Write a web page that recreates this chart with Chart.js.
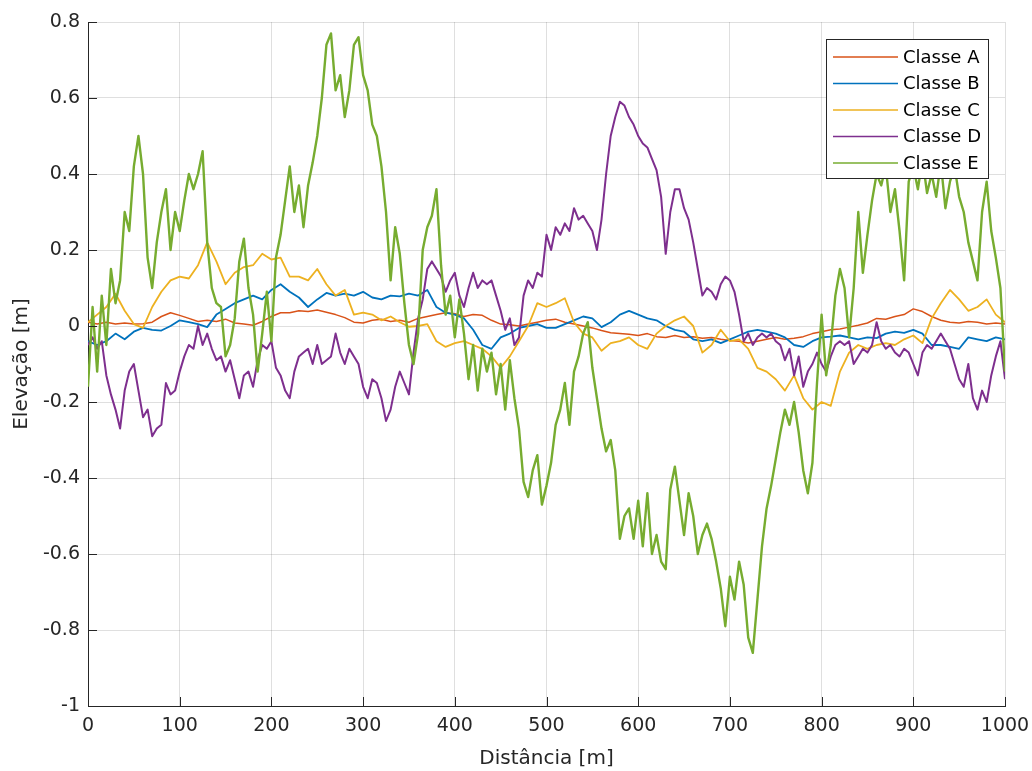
<!DOCTYPE html>
<html>
<head>
<meta charset="utf-8">
<script src="https://cdn.jsdelivr.net/npm/chart.js@4/dist/chart.umd.min.js"></script>
<style>
  html, body { margin: 0; padding: 0; background: #ffffff; }
  canvas { display: block; }
</style>
</head>
<body>
<canvas id="perfil" width="1032" height="771"></canvas>
<script>
// Perfis de elevação por classe de rugosidade, distância 0–1000 m
const seriesNames = ['Classe A', 'Classe B', 'Classe C', 'Classe D', 'Classe E'];
const seriesColors = ['#D95319', '#0072BD', '#EDB120', '#7E2F8E', '#77AC30'];
const seriesWidths = [1.5, 1.8, 1.8, 2, 2.4];

const xTicks = [0, 100, 200, 300, 400, 500, 600, 700, 800, 900, 1000];
const yTicks = [-1, -0.8, -0.6, -0.4, -0.2, 0, 0.2, 0.4, 0.6, 0.8];

// sample positions along the profile (10 m and 5 m spacing)
const dist10 = Array.from({ length: 101 }, (_, i) => i * 10);
const dist5 = Array.from({ length: 201 }, (_, i) => i * 5);

// Classe A, every 10 m
const elevA = [
  0.010, 0.005, 0.010, 0.005, 0.008, 0.005, 0.006, 0.010, 0.025, 0.035,
  0.028, 0.020, 0.012, 0.015, 0.012, 0.018, 0.008, 0.005, 0.002, 0.012,
  0.025, 0.035, 0.035, 0.040, 0.038, 0.042, 0.036, 0.030, 0.022, 0.010,
  0.008, 0.015, 0.018, 0.012, 0.015, 0.010, 0.020, 0.025, 0.030, 0.035,
  0.032, 0.025, 0.030, 0.028, 0.015, 0.005, 0.003, 0.000, 0.005, 0.010,
  0.015, 0.018, 0.010, 0.005, 0.000, -0.005, -0.012, -0.018, -0.020, -0.022,
  -0.025, -0.020, -0.028, -0.030, -0.025, -0.030, -0.028, -0.032, -0.030, -0.035,
  -0.038, -0.040, -0.045, -0.040, -0.035, -0.030, -0.035, -0.032, -0.028, -0.020,
  -0.015, -0.010, -0.008, -0.003, 0.002, 0.008, 0.020, 0.018, 0.025, 0.030,
  0.045, 0.038, 0.025, 0.015, 0.010, 0.008, 0.012, 0.010, 0.005, 0.008,
  0.005
];

// Classe B, every 10 m
const elevB = [
  -0.040, -0.050, -0.040, -0.020, -0.035, -0.015, -0.005, -0.010, -0.012, 0.000,
  0.015, 0.010, 0.005, -0.003, 0.030, 0.045, 0.060, 0.070, 0.080, 0.070,
  0.095, 0.110, 0.090, 0.075, 0.050, 0.070, 0.087, 0.080, 0.085, 0.080,
  0.090, 0.075, 0.070, 0.080, 0.078, 0.085, 0.080, 0.095, 0.050, 0.035,
  0.030, 0.020, -0.010, -0.050, -0.060, -0.030, -0.020, -0.005, 0.000, 0.005,
  -0.005, -0.005, 0.005, 0.015, 0.025, 0.020, -0.003, 0.010, 0.030, 0.040,
  0.030, 0.020, 0.015, 0.000, -0.010, -0.015, -0.035, -0.040, -0.035, -0.045,
  -0.035, -0.025, -0.015, -0.010, -0.015, -0.020, -0.030, -0.050, -0.055, -0.040,
  -0.030, -0.028, -0.025, -0.030, -0.035, -0.030, -0.032, -0.020, -0.015, -0.018,
  -0.010, -0.020, -0.050, -0.050, -0.055, -0.060, -0.030, -0.035, -0.040, -0.030,
  -0.035
];

// Classe C, every 10 m
const elevC = [
  0.010, 0.030, 0.050, 0.085, 0.040, 0.005, -0.005, 0.050, 0.090, 0.120,
  0.130, 0.125, 0.160, 0.220, 0.170, 0.110, 0.140, 0.155, 0.160, 0.190,
  0.175, 0.180, 0.130, 0.130, 0.120, 0.150, 0.110, 0.080, 0.095, 0.030,
  0.035, 0.030, 0.015, 0.025, 0.010, -0.002, 0.000, 0.005, -0.040, -0.055,
  -0.045, -0.040, -0.050, -0.060, -0.080, -0.110, -0.080, -0.040, 0.000, 0.060,
  0.050, 0.060, 0.073, 0.010, -0.020, -0.030, -0.065, -0.045, -0.040, -0.030,
  -0.050, -0.060, -0.020, 0.000, 0.015, 0.025, 0.000, -0.070, -0.050, -0.010,
  -0.040, -0.035, -0.060, -0.110, -0.120, -0.140, -0.170, -0.130, -0.190, -0.220,
  -0.200, -0.210, -0.120, -0.070, -0.050, -0.060, -0.050, -0.045, -0.050, -0.035,
  -0.025, -0.045, 0.020, 0.060, 0.095, 0.070, 0.040, 0.050, 0.070, 0.030,
  0.010
];

// Classe D, every 5 m
const elevD = [
  -0.05, -0.03, -0.06, -0.04, -0.13, -0.18, -0.22, -0.27, -0.17, -0.12,
  -0.10, -0.17, -0.24, -0.22, -0.29, -0.27, -0.26, -0.15, -0.18, -0.17,
  -0.12, -0.08, -0.05, -0.06, 0.00, -0.05, -0.02, -0.06, -0.09, -0.08,
  -0.12, -0.09, -0.14, -0.19, -0.13, -0.12, -0.16, -0.09, -0.05, -0.06,
  -0.04, -0.11, -0.13, -0.17, -0.19, -0.12, -0.08, -0.07, -0.06, -0.10,
  -0.05, -0.10, -0.09, -0.08, -0.02, -0.07, -0.10, -0.06, -0.08, -0.10,
  -0.16, -0.19, -0.14, -0.15, -0.19, -0.25, -0.22, -0.16, -0.12, -0.15,
  -0.18, -0.07, 0.02, 0.07, 0.15, 0.17, 0.15, 0.13, 0.09, 0.12,
  0.14, 0.08, 0.05, 0.10, 0.14, 0.10, 0.12, 0.11, 0.12, 0.08,
  0.04, -0.01, 0.02, -0.05, -0.03, 0.08, 0.12, 0.10, 0.14, 0.13,
  0.24, 0.20, 0.26, 0.24, 0.27, 0.25, 0.31, 0.28, 0.29, 0.27,
  0.25, 0.20, 0.28, 0.40, 0.50, 0.55, 0.59, 0.58, 0.55, 0.53,
  0.50, 0.48, 0.47, 0.44, 0.41, 0.34, 0.19, 0.30, 0.36, 0.36,
  0.31, 0.28, 0.22, 0.15, 0.08, 0.10, 0.09, 0.07, 0.11, 0.13,
  0.12, 0.09, 0.03, -0.04, -0.02, -0.05, -0.03, -0.02, -0.03, -0.02,
  -0.04, -0.05, -0.09, -0.06, -0.13, -0.08, -0.16, -0.12, -0.10, -0.07,
  -0.10, -0.12, -0.08, -0.05, -0.04, -0.05, -0.04, -0.10, -0.08, -0.06,
  -0.07, -0.05, 0.01, -0.04, -0.06, -0.05, -0.07, -0.08, -0.06, -0.07,
  -0.10, -0.13, -0.07, -0.05, -0.06, -0.04, -0.02, -0.04, -0.06, -0.10,
  -0.14, -0.16, -0.10, -0.19, -0.22, -0.17, -0.20, -0.13, -0.08, -0.04,
  -0.14
];

// Classe E, every 5 m
const elevE = [
  -0.16, 0.05, -0.12, 0.08, -0.05, 0.15, 0.06, 0.12, 0.30, 0.25,
  0.42, 0.50, 0.40, 0.18, 0.10, 0.22, 0.30, 0.36, 0.20, 0.30,
  0.25, 0.33, 0.40, 0.36, 0.40, 0.46, 0.22, 0.10, 0.06, 0.05,
  -0.08, -0.05, 0.02, 0.17, 0.23, 0.10, 0.03, -0.12, -0.02, 0.09,
  -0.04, 0.18, 0.24, 0.33, 0.42, 0.30, 0.37, 0.26, 0.37, 0.43,
  0.50, 0.60, 0.74, 0.77, 0.62, 0.66, 0.55, 0.62, 0.74, 0.76,
  0.66, 0.62, 0.53, 0.50, 0.42, 0.30, 0.12, 0.26, 0.19, 0.06,
  -0.05, -0.10, -0.02, 0.20, 0.26, 0.29, 0.36, 0.16, 0.03, 0.08,
  -0.03, 0.07, -0.02, -0.14, -0.05, -0.17, -0.06, -0.12, -0.07, -0.18,
  -0.10, -0.22, -0.09, -0.19, -0.27, -0.41, -0.45, -0.38, -0.34, -0.47,
  -0.42, -0.36, -0.26, -0.22, -0.15, -0.26, -0.12, -0.08, -0.02, 0.01,
  -0.11, -0.19, -0.27, -0.33, -0.30, -0.38, -0.56, -0.50, -0.48, -0.56,
  -0.46, -0.58, -0.44, -0.60, -0.55, -0.62, -0.64, -0.43, -0.37, -0.46,
  -0.55, -0.44, -0.50, -0.60, -0.55, -0.52, -0.56, -0.62, -0.69, -0.79,
  -0.66, -0.72, -0.62, -0.68, -0.82, -0.86, -0.72, -0.58, -0.48, -0.42,
  -0.35, -0.28, -0.22, -0.26, -0.20, -0.28, -0.38, -0.44, -0.36, -0.15,
  0.03, -0.13, -0.05, 0.08, 0.15, 0.10, -0.03, 0.10, 0.30, 0.14,
  0.24, 0.33, 0.40, 0.37, 0.42, 0.30, 0.36, 0.25, 0.12, 0.38,
  0.42, 0.36, 0.44, 0.35, 0.40, 0.34, 0.43, 0.31, 0.38, 0.42,
  0.34, 0.30, 0.22, 0.17, 0.12, 0.30, 0.38, 0.25, 0.18, 0.10,
  -0.12
];

const FONT = '"DejaVu Sans", "Liberation Sans", sans-serif';
const AXIS = '#262626';
const GRID = 'rgba(38,38,38,0.15)';

function pairs(xs, ys) {
  return ys.map((y, i) => ({ x: xs[i], y: y }));
}

const seriesData = [
  pairs(dist10, elevA),
  pairs(dist10, elevB),
  pairs(dist10, elevC),
  pairs(dist5, elevD),
  pairs(dist5, elevE)
];

// MATLAB-style inward tick marks on the left and bottom axes
const inwardTicks = {
  id: 'inwardTicks',
  afterDraw(chart) {
    const { ctx, chartArea: a, scales: { x, y } } = chart;
    ctx.save();
    ctx.strokeStyle = AXIS;
    ctx.lineWidth = 1;
    ctx.beginPath();
    x.ticks.forEach(t => {
      const px = Math.round(x.getPixelForValue(t.value)) + 0.5;
      ctx.moveTo(px, a.bottom);
      ctx.lineTo(px, a.bottom - 9);
    });
    y.ticks.forEach(t => {
      const py = Math.round(y.getPixelForValue(t.value)) + 0.5;
      ctx.moveTo(a.left, py);
      ctx.lineTo(a.left + 9, py);
    });
    ctx.stroke();
    ctx.restore();
  }
};

// boxed legend in the upper-right corner of the plot, drawn over the data
const boxedLegend = {
  id: 'boxedLegend',
  afterDraw(chart) {
    const { ctx, chartArea: a } = chart;
    const w = 162, h = 139;
    const left = a.right - 17 - w;
    const top = a.top + 17;
    ctx.save();
    ctx.fillStyle = '#ffffff';
    ctx.fillRect(left, top, w, h);
    ctx.strokeStyle = AXIS;
    ctx.lineWidth = 1;
    ctx.strokeRect(Math.round(left) + 0.5, Math.round(top) + 0.5, w, h);
    ctx.font = '18px ' + FONT;
    ctx.textBaseline = 'middle';
    ctx.textAlign = 'left';
    chart.data.datasets.forEach((ds, i) => {
      const cy = top + 18 + i * 26.5;
      ctx.strokeStyle = ds.borderColor;
      ctx.lineWidth = 1.5;
      ctx.beginPath();
      ctx.moveTo(left + 7, cy);
      ctx.lineTo(left + 72, cy);
      ctx.stroke();
      ctx.fillStyle = '#000000';
      ctx.fillText(ds.label, left + 77, cy + 1);
    });
    ctx.restore();
  }
};

const chart = new Chart(document.getElementById('perfil'), {
  type: 'line',
  data: {
    datasets: seriesNames.map((name, i) => ({
      label: name,
      data: seriesData[i],
      borderColor: seriesColors[i],
      backgroundColor: seriesColors[i],
      borderWidth: seriesWidths[i],
      borderJoinStyle: 'round',
      pointRadius: 0,
      tension: 0,
      fill: false,
      order: seriesNames.length - 1 - i
    }))
  },
  options: {
    responsive: false,
    animation: false,
    devicePixelRatio: 1,
    layout: { padding: { top: 22, right: 27, left: 0, bottom: 0 } },
    plugins: {
      legend: { display: false },
      tooltip: { enabled: false }
    },
    scales: {
      x: {
        type: 'linear',
        min: 0,
        max: 1000,
        afterBuildTicks: s => { s.ticks = xTicks.map(v => ({ value: v })); },
        afterFit: s => {
          s.height = 65;
          s.paddingLeft = 0;
          s.paddingRight = 0;
        },
        ticks: {
          autoSkip: false,
          maxRotation: 0,
          padding: 9,
          color: AXIS,
          font: { family: FONT, size: 19 },
          callback: v => String(v)
        },
        grid: { color: GRID, lineWidth: 1, drawTicks: false },
        border: { display: true, color: AXIS, width: 1 },
        title: {
          display: true,
          text: 'Distância [m]',
          color: AXIS,
          font: { family: FONT, size: 20 },
          padding: { top: 0, bottom: 0 }
        }
      },
      y: {
        type: 'linear',
        min: -1,
        max: 0.8,
        afterBuildTicks: s => { s.ticks = yTicks.map(v => ({ value: v })); },
        afterFit: s => {
          s.width = 88;
          s.paddingTop = 0;
          s.paddingBottom = 0;
        },
        ticks: {
          autoSkip: false,
          padding: 8,
          color: AXIS,
          font: { family: FONT, size: 19 },
          callback: v => String(Math.round(v * 10) / 10)
        },
        grid: { color: GRID, lineWidth: 1, drawTicks: false },
        border: { display: true, color: AXIS, width: 1 },
        title: {
          display: true,
          text: 'Elevação [m]',
          color: AXIS,
          font: { family: FONT, size: 20 },
          padding: { top: 10, bottom: 0 }
        }
      }
    }
  },
  plugins: [inwardTicks, boxedLegend]
});
</script>
</body>
</html>
